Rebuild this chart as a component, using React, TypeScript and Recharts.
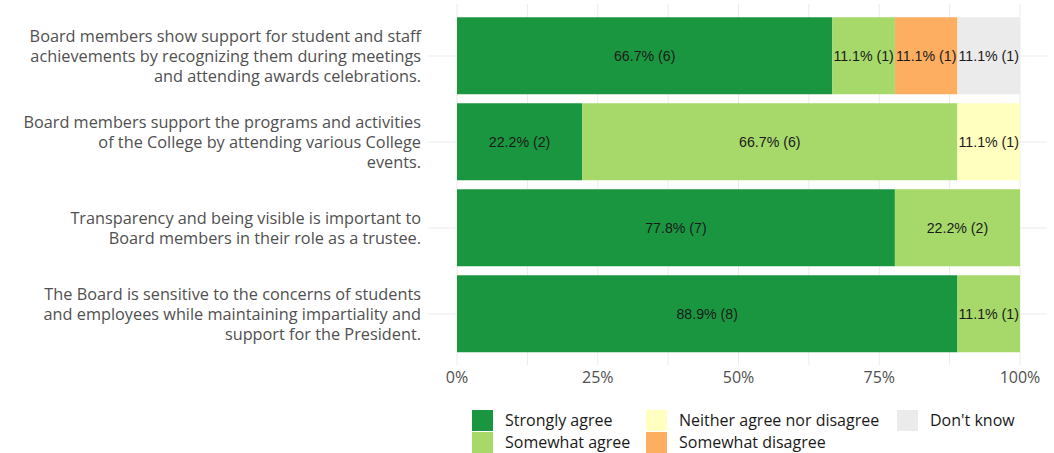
import React from "react";
import {
  BarChart,
  Bar,
  XAxis,
  YAxis,
  CartesianGrid,
  LabelList,
} from "recharts";

const questions = [
  "Board members show support for student and staff\nachievements by recognizing them during meetings\nand attending awards celebrations.",
  "Board members support the programs and activities\nof the College by attending various College\nevents.",
  "Transparency and being visible is important to\nBoard members in their role as a trustee.",
  "The Board is sensitive to the concerns of students\nand employees while maintaining impartiality and\nsupport for the President.",
];

const respondents = [9, 9, 9, 9];

const stronglyAgree = [6, 2, 7, 8];
const somewhatAgree = [1, 6, 2, 1];
const neither = [0, 1, 0, 0];
const somewhatDisagree = [1, 0, 0, 0];
const dontKnow = [1, 0, 0, 0];

const xTicks = [0, 12.5, 25, 37.5, 50, 62.5, 75, 87.5, 100];

const series = [
  { key: "sa", name: "Strongly agree", counts: stronglyAgree, color: "#1a9641" },
  { key: "swa", name: "Somewhat agree", counts: somewhatAgree, color: "#a6d96a" },
  { key: "n", name: "Neither agree nor disagree", counts: neither, color: "#ffffbf" },
  { key: "swd", name: "Somewhat disagree", counts: somewhatDisagree, color: "#fdae61" },
  { key: "dk", name: "Don't know", counts: dontKnow, color: "#ebebeb" },
];

// legend is laid out in columns of two, like the original
const legendColumns = [
  ["sa", "swa"],
  ["n", "swd"],
  ["dk"],
];

const data = questions.map((q, i) => {
  const row: Record<string, unknown> = { question: q };
  series.forEach((s) => {
    const c = s.counts[i];
    const pct = (c / respondents[i]) * 100;
    row[s.key] = pct;
    row[s.key + "Label"] = c > 0 ? `${pct.toFixed(1)}% (${c})` : "";
  });
  return row;
});

const QuestionTick = (props: any) => {
  const { x, y, payload } = props;
  const lines = String(payload.value).split("\n");
  const lh = 20;
  const start = y - ((lines.length - 1) * lh) / 2;
  return (
    <text
      x={x}
      y={start}
      textAnchor="end"
      fill="#505050"
      fontSize={16.3}
      fontFamily="'Open Sans', sans-serif"
    >
      {lines.map((l, i) => (
        <tspan key={i} x={x} y={start + i * lh} dy="0.36em">
          {l}
        </tspan>
      ))}
    </text>
  );
};

const BarLabel = (props: any) => {
  const { x, y, width, height, value } = props;
  if (!value) return null;
  return (
    <text
      x={x + width / 2}
      y={y + height / 2}
      dy="0.36em"
      textAnchor="middle"
      fill="#1a1a1a"
      fontSize={14.2}
      fontFamily="'Liberation Sans', Arial, sans-serif"
    >
      {value}
    </text>
  );
};

export default function App() {
  return (
    <div
      style={{
        position: "absolute",
        left: 0,
        top: 0,
        width: 1054,
        height: 453,
        background: "#fff",
      }}
    >
      <BarChart
        width={1054}
        height={453}
        data={data}
        layout="vertical"
        margin={{ top: 4, right: 7, left: 0, bottom: 53 }}
        barCategoryGap="5%"
      >
        <CartesianGrid stroke="#ebebeb" strokeWidth={1} syncWithTicks />
        <XAxis
          type="number"
          domain={[0, 100]}
          ticks={xTicks}
          interval={0}
          padding={{ left: 29, right: 27 }}
          tickFormatter={(v) => (v % 25 === 0 ? `${v}%` : "")}
          axisLine={false}
          tickLine={false}
          tickSize={0}
          tickMargin={7}
          height={35}
          tick={{ fill: "#505050", fontSize: 16, fontFamily: "'Open Sans', sans-serif" }}
        />
        <YAxis
          type="category"
          dataKey="question"
          width={428}
          axisLine={false}
          tickLine={false}
          tickSize={0}
          tickMargin={7}
          padding={{ top: 9, bottom: 8 }}
          tick={<QuestionTick />}
        />
        {series.map((s) => (
          <Bar
            key={s.key}
            dataKey={s.key}
            name={s.name}
            stackId="a"
            fill={s.color}
            isAnimationActive={false}
          >
            <LabelList dataKey={s.key + "Label"} content={<BarLabel />} />
          </Bar>
        ))}
      </BarChart>
      <div
        style={{
          position: "absolute",
          left: 472,
          top: 409,
          display: "flex",
          fontFamily: "'Open Sans', sans-serif",
          fontSize: 16,
          color: "#1a1a1a",
        }}
      >
        {legendColumns.map((col, ci) => (
          <div
            key={ci}
            style={{ width: ci === 0 ? 174 : ci === 1 ? 251 : 120 }}
          >
            {col.map((k) => {
              const s = series.find((x) => x.key === k)!;
              return (
                <div
                  key={k}
                  style={{ display: "flex", alignItems: "center", height: 22 }}
                >
                  <div
                    style={{
                      width: 21,
                      height: 21,
                      background: s.color,
                      marginRight: 12,
                    }}
                  />
                  <span style={{ lineHeight: "22px" }}>{s.name}</span>
                </div>
              );
            })}
          </div>
        ))}
      </div>
    </div>
  );
}
